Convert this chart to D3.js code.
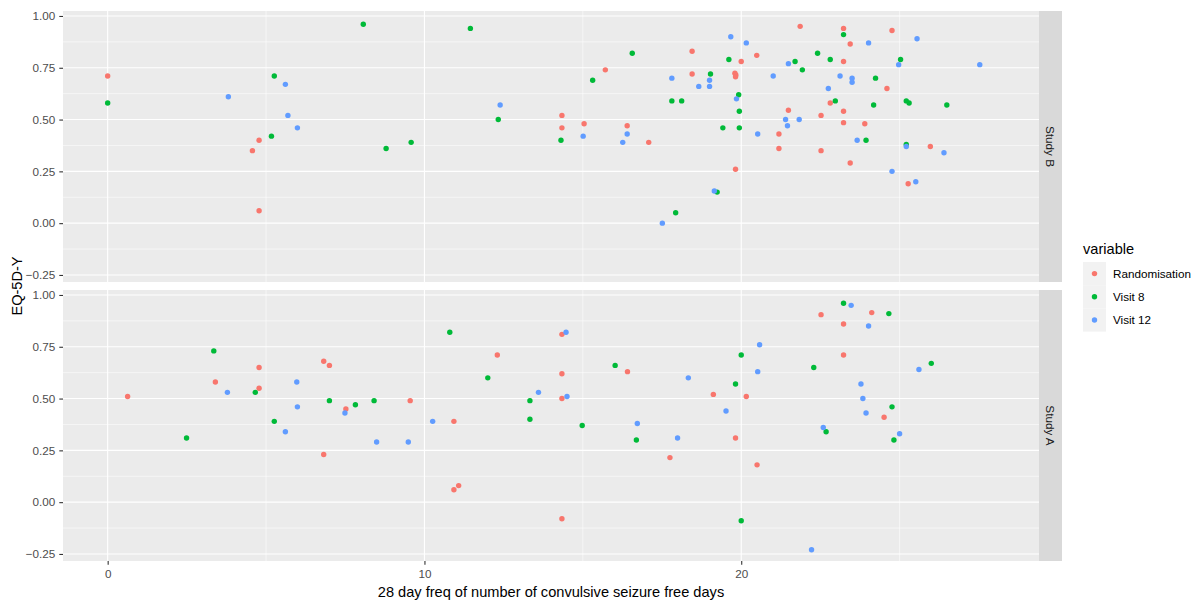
<!DOCTYPE html>
<html>
<head>
<meta charset="utf-8">
<script src="https://cdn.jsdelivr.net/npm/d3@7"></script>
<style>
  body { margin: 0; background: #fff; }
  svg { font-family: "Liberation Sans", Arial, sans-serif; }
</style>
</head>
<body>
<svg id="chart" width="1204" height="602"></svg>
<script>
// facets (top to bottom) and series
const studies = ["Study B", "Study A"];
const variables = ["Randomisation", "Visit 8", "Visit 12"];
const xTicks = [0, 10, 20];
const yTicks = [-0.25, 0, 0.25, 0.5, 0.75, 1];

// [28 day freq, EQ-5D-Y]
const studyBRandomisation = [[0, 0.71], [4.78, 0.40], [4.57, 0.35], [4.78, 0.06], [18.45, 0.83], [20.49, 0.81], [20.0, 0.78], [15.71, 0.74], [18.45, 0.72], [19.80, 0.724], [19.83, 0.715], [19.82, 0.707], [21.49, 0.545], [14.34, 0.52], [15.04, 0.48], [14.34, 0.46], [16.40, 0.47], [17.08, 0.39], [21.19, 0.43], [21.19, 0.36], [19.82, 0.26], [21.86, 0.95], [23.23, 0.94], [24.76, 0.93], [23.44, 0.865], [23.23, 0.78], [24.60, 0.65], [22.81, 0.58], [22.52, 0.52], [23.23, 0.54], [23.23, 0.485], [23.90, 0.48], [25.97, 0.37], [22.52, 0.35], [23.44, 0.29], [25.27, 0.19]];
const studyBVisit8 = [[0, 0.58], [5.26, 0.71], [5.17, 0.42], [8.07, 0.96], [11.45, 0.94], [12.33, 0.50], [9.58, 0.39], [8.79, 0.36], [16.56, 0.82], [19.61, 0.79], [15.31, 0.69], [19.03, 0.72], [19.92, 0.62], [17.81, 0.59], [18.12, 0.59], [19.94, 0.54], [19.42, 0.46], [19.94, 0.46], [14.31, 0.40], [19.24, 0.15], [17.93, 0.05], [23.23, 0.91], [22.41, 0.82], [21.70, 0.78], [22.81, 0.79], [25.03, 0.79], [21.93, 0.74], [24.24, 0.70], [22.97, 0.59], [24.18, 0.57], [25.21, 0.59], [25.30, 0.58], [26.49, 0.57], [23.94, 0.40], [25.21, 0.38]];
const studyBVisit12 = [[3.81, 0.61], [5.61, 0.67], [5.69, 0.52], [5.99, 0.46], [12.39, 0.57], [19.67, 0.90], [20.16, 0.87], [21.49, 0.77], [17.81, 0.70], [19.0, 0.69], [18.66, 0.66], [19.0, 0.66], [21.01, 0.71], [19.85, 0.60], [21.40, 0.50], [21.46, 0.47], [15.01, 0.42], [16.40, 0.43], [16.26, 0.39], [20.52, 0.43], [19.15, 0.155], [17.51, 0.00], [25.55, 0.89], [24.02, 0.87], [24.97, 0.765], [27.53, 0.765], [23.12, 0.71], [23.50, 0.70], [23.50, 0.68], [22.75, 0.65], [21.83, 0.50], [23.66, 0.40], [25.21, 0.37], [26.40, 0.34], [24.76, 0.25], [25.51, 0.20]];
const studyARandomisation = [[4.78, 0.65], [3.40, 0.58], [4.78, 0.55], [0.63, 0.51], [12.30, 0.71], [6.82, 0.68], [7.00, 0.66], [9.55, 0.49], [7.52, 0.45], [10.93, 0.39], [6.82, 0.23], [11.08, 0.08], [10.93, 0.06], [14.34, 0.81], [16.41, 0.63], [14.34, 0.62], [19.12, 0.52], [20.16, 0.51], [14.34, 0.50], [19.82, 0.31], [17.75, 0.215], [20.50, 0.18], [14.34, -0.08], [22.52, 0.905], [24.12, 0.915], [23.23, 0.86], [23.23, 0.71], [24.51, 0.41]];
const studyAVisit8 = [[3.35, 0.73], [4.66, 0.53], [5.26, 0.39], [2.49, 0.31], [10.80, 0.82], [12.0, 0.60], [7.00, 0.49], [8.41, 0.49], [13.33, 0.49], [7.82, 0.47], [13.33, 0.40], [20.0, 0.71], [16.02, 0.66], [19.82, 0.57], [14.98, 0.37], [16.69, 0.30], [20.0, -0.09], [23.23, 0.96], [24.66, 0.91], [22.29, 0.65], [26.0, 0.67], [24.76, 0.46], [22.68, 0.34], [24.82, 0.30]];
const studyAVisit12 = [[5.97, 0.58], [3.78, 0.53], [5.99, 0.46], [5.61, 0.34], [13.60, 0.53], [7.49, 0.43], [10.26, 0.39], [8.49, 0.29], [9.49, 0.29], [14.47, 0.82], [20.58, 0.76], [18.33, 0.60], [20.52, 0.63], [14.50, 0.51], [19.52, 0.44], [16.72, 0.38], [17.99, 0.31], [23.47, 0.95], [24.02, 0.85], [25.61, 0.64], [23.78, 0.57], [23.84, 0.50], [23.94, 0.43], [22.59, 0.36], [25.0, 0.33], [22.22, -0.23]];

const seriesByStudy = {
  "Study B": [studyBRandomisation, studyBVisit8, studyBVisit12],
  "Study A": [studyARandomisation, studyAVisit8, studyAVisit12]
};

const color = d3.scaleOrdinal().domain(variables).range(["#F8766D", "#00BA38", "#619CFF"]);

// layout
const left = 63, right = 1039, stripW = 23;
const panelTops = [11, 290], panelH = 271;

const x = d3.scaleLinear().domain([-1.41, 29.4]).range([left, right]);

const svg = d3.select("#chart");

studies.forEach(function(study, i) {
  const top = panelTops[i];
  const y = d3.scaleLinear().domain([-0.284, 1.024]).range([top + panelH, top]);
  const g = svg.append("g");

  g.append("rect")
    .attr("x", left).attr("y", top)
    .attr("width", right - left).attr("height", panelH)
    .attr("fill", "#EBEBEB");

  // minor grid
  const xMinor = [5, 15, 25];
  const yMinor = [-0.125, 0.125, 0.375, 0.625, 0.875];
  g.selectAll(".xminor").data(xMinor).enter().append("line")
    .attr("x1", d => x(d)).attr("x2", d => x(d))
    .attr("y1", top).attr("y2", top + panelH)
    .attr("stroke", "#fff").attr("stroke-width", 0.55);
  g.selectAll(".yminor").data(yMinor).enter().append("line")
    .attr("x1", left).attr("x2", right)
    .attr("y1", d => y(d)).attr("y2", d => y(d))
    .attr("stroke", "#fff").attr("stroke-width", 0.55);
  // major grid
  g.selectAll(".xmajor").data(xTicks).enter().append("line")
    .attr("x1", d => x(d)).attr("x2", d => x(d))
    .attr("y1", top).attr("y2", top + panelH)
    .attr("stroke", "#fff").attr("stroke-width", 1.1);
  g.selectAll(".ymajor").data(yTicks).enter().append("line")
    .attr("x1", left).attr("x2", right)
    .attr("y1", d => y(d)).attr("y2", d => y(d))
    .attr("stroke", "#fff").attr("stroke-width", 1.1);

  // points, one layer per variable
  seriesByStudy[study].forEach(function(pts, k) {
    g.append("g").selectAll("circle").data(pts).enter().append("circle")
      .attr("cx", d => x(d[0]))
      .attr("cy", d => y(d[1]))
      .attr("r", 2.7)
      .attr("fill", color(variables[k]));
  });

  // y axis
  const yAxis = svg.append("g")
    .attr("transform", "translate(" + left + ",0)")
    .call(d3.axisLeft(y).tickValues(yTicks).tickFormat(d3.format(".2f")).tickSizeOuter(0).tickSize(3.7).tickPadding(4));
  yAxis.select(".domain").remove();
  yAxis.selectAll("line").attr("stroke", "#333333").attr("stroke-width", 1.1);
  yAxis.selectAll("text").attr("fill", "#4D4D4D").style("font-size", "11.7px");

  // strip
  svg.append("rect")
    .attr("x", right).attr("y", top)
    .attr("width", stripW).attr("height", panelH)
    .attr("fill", "#D9D9D9");
  svg.append("text")
    .attr("transform", "translate(" + (right + stripW / 2) + "," + (top + panelH / 2) + ") rotate(90)")
    .attr("text-anchor", "middle")
    .attr("dy", "0.35em")
    .attr("fill", "#1A1A1A")
    .style("font-size", "11.7px")
    .text(study);
});

// x axis under the lower panel
const bottom = panelTops[1] + panelH;
const xAxis = svg.append("g")
  .attr("transform", "translate(0," + bottom + ")")
  .call(d3.axisBottom(x).tickValues(xTicks).tickSizeOuter(0).tickSize(3.7).tickPadding(4.5));
xAxis.select(".domain").remove();
xAxis.selectAll("line").attr("stroke", "#333333").attr("stroke-width", 1.1);
xAxis.selectAll("text").attr("fill", "#4D4D4D").style("font-size", "11.7px");

// axis titles
svg.append("text")
  .attr("x", (left + right) / 2).attr("y", 597)
  .attr("text-anchor", "middle")
  .style("font-size", "14.6px")
  .text("28 day freq of number of convulsive seizure free days");
svg.append("text")
  .attr("transform", "translate(22," + ((panelTops[0] + bottom) / 2) + ") rotate(-90)")
  .attr("text-anchor", "middle")
  .style("font-size", "14.6px")
  .text("EQ-5D-Y");

// legend
const legend = svg.append("g").attr("transform", "translate(1083,0)");
legend.append("text")
  .attr("x", 0).attr("y", 254)
  .style("font-size", "14.6px")
  .text("variable");
const keyH = 23.2, keyTop = 262;
variables.forEach(function(v, k) {
  const ky = keyTop + k * keyH;
  legend.append("rect")
    .attr("x", 0).attr("y", ky)
    .attr("width", 23).attr("height", keyH)
    .attr("fill", "#F2F2F2");
  legend.append("circle")
    .attr("cx", 11.5).attr("cy", ky + keyH / 2)
    .attr("r", 2.7)
    .attr("fill", color(v));
  legend.append("text")
    .attr("x", 30).attr("y", ky + keyH / 2)
    .attr("dy", "0.35em")
    .attr("fill", "#000")
    .style("font-size", "11.7px")
    .text(v);
});
</script>
</body>
</html>
